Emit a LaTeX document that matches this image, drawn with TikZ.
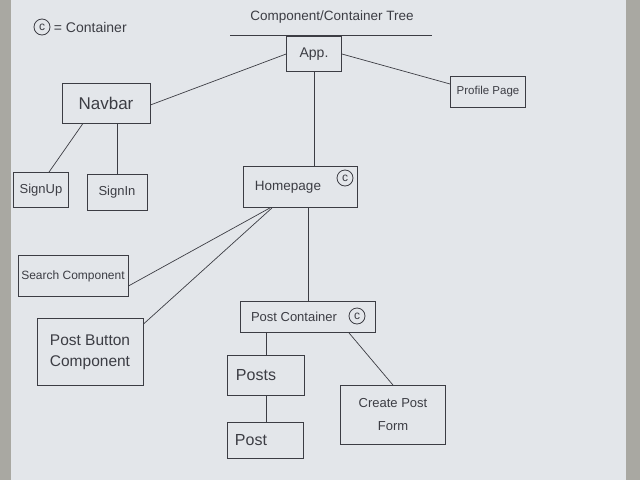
\documentclass[tikz,border=0pt]{standalone}
\usepackage{fontspec}
\setmainfont{Liberation Sans}
\definecolor{paper}{HTML}{E3E6EA}
\definecolor{rim}{HTML}{A9A8A2}
\definecolor{pencil}{HTML}{3C3D44}
\tikzset{
  box/.style={draw=pencil, line width=0.8pt, text=pencil, inner sep=2pt,
    font=\fontsize{13}{15}\selectfont},
  cmark/.style={draw=pencil, circle, line width=0.8pt, inner sep=0pt,
    minimum size=16pt, text=pencil, font=\fontsize{12}{12}\selectfont},
  link/.style={draw=pencil, line width=0.7pt}
}
\begin{document}
\begin{tikzpicture}[x=1pt,y=-1pt]
\fill[rim] (0,0) rectangle (640,480);
\fill[paper] (11,0) rectangle (626,480);
\useasboundingbox (0,0) rectangle (640,480);

% title and legend
\node[text=pencil, font=\fontsize{13.5}{16}\selectfont] (title) at (332,17) {Component/Container Tree};
\coordinate (ula) at (230,35);
\coordinate (ulb) at (432,35);
\draw[link] (ula) -- (ulb);
\node[cmark] (leg) at (42,27) {c};
\node[anchor=west, text=pencil, font=\fontsize{14}{16}\selectfont] (legtxt) at (leg.east) {= Container};

% boxes
\node[box, minimum width=55, minimum height=35, font=\fontsize{14}{16}\selectfont] (app) at (314,54) {App.};
\node[box, minimum width=88, minimum height=40, font=\fontsize{17}{19}\selectfont] (nav) at (106,103) {Navbar};
\node[box, minimum width=75, minimum height=31, font=\fontsize{11.5}{13}\selectfont] (prof) at (488,92) {Profile Page};
\node[box, minimum width=55, minimum height=35] (up) at (41,190) {SignUp};
\node[box, minimum width=60, minimum height=36] (in) at (117,192) {SignIn};
\node[box, minimum width=114, minimum height=41, font=\fontsize{13.5}{15}\selectfont] (home) at (300,187) {Homepage\kern24pt};
\node[cmark] (homec) at (345,178) {c};
\node[box, minimum width=110, minimum height=41, font=\fontsize{12}{14}\selectfont] (search) at (73,276) {Search Component};
\node[box, minimum width=106, minimum height=67, align=center, font=\fontsize{15.5}{21}\selectfont] (pbtn) at (90,352) {Post Button\\Component};
\node[box, minimum width=135, minimum height=31] (pcont) at (308,317) {Post Container\kern28pt};
\node[cmark] (pcontc) at (357,316) {c};
\node[box, minimum width=77, minimum height=40, font=\fontsize{16}{18}\selectfont] (posts) at (266,375) {Posts\kern20pt};
\node[box, minimum width=76, minimum height=36, font=\fontsize{16}{18}\selectfont] (post) at (265,440) {Post\kern28pt};
\node[box, minimum width=105, minimum height=59, align=center, font=\fontsize{13}{23}\selectfont] (form) at (393,415) {Create Post\\Form};

% links
\draw[link] (app.west) -- ([yshift=-2]nav.east);
\draw[link] (app.south) -- (app.south |- home.north);
\draw[link] (app.east) -- ([yshift=8]prof.west);
\draw[link] ([xshift=-23]nav.south) -- ([xshift=8]up.north);
\draw[link] (in.north |- nav.south) -- (in.north);
\draw[link] ([xshift=-30]home.south) -- ([yshift=-10]search.east);
\draw[link] ([xshift=-28]home.south) -- ([yshift=-6]pbtn.north east);
\draw[link] (pcont.north |- home.south) -- (pcont.north);
\draw[link] (posts.north |- pcont.south) -- (posts.north);
\draw[link] (posts.south) -- (posts.south |- post.north);
\draw[link] ([xshift=41]pcont.south) -- (form.north);
\end{tikzpicture}
\end{document}
